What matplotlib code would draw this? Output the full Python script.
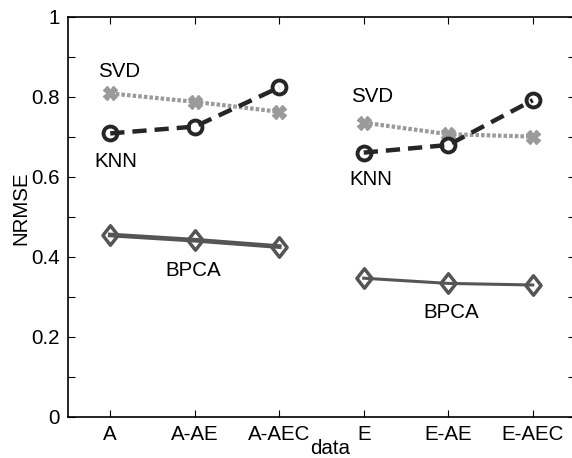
import matplotlib
matplotlib.use("Agg")
import matplotlib.pyplot as plt
from matplotlib.path import Path

plt.rcParams['font.family'] = ['Liberation Sans', 'DejaVu Sans']

categories = ["A", "A-AE", "A-AEC", "E", "E-AE", "E-AEC"]
groups = [[0, 1, 2], [3, 4, 5]]

svd = [0.809, 0.788, 0.763, 0.736, 0.707, 0.701]
knn = [0.709, 0.726, 0.824, 0.661, 0.680, 0.792]
bpca = [0.455, 0.442, 0.426, 0.347, 0.334, 0.330]

fig = plt.figure(figsize=(5.72, 4.58), dpi=100)
W, H = 572, 458
ax = fig.add_axes([68 / W, (H - 417) / H, (575 - 68) / W, 400 / H])

x = list(range(1, 7))
fs = 14.8

diamond = Path([(0, 1), (0.78, 0), (0, -1), (-0.78, 0), (0, 1)],
               [Path.MOVETO, Path.LINETO, Path.LINETO, Path.LINETO, Path.CLOSEPOLY])

for gi, g in enumerate(groups):
    xs = [x[i] for i in g]
    ax.plot(xs, [svd[i] for i in g], linestyle=(0, (0.85, 0.5)), color='#9a9a9a', lw=3.0,
            marker='X', ms=9.5, mfc='#9a9a9a', mec='#9a9a9a', zorder=3)
    ax.plot(xs, [knn[i] for i in g], linestyle=(0, (3.2, 1.8)), color='#262626', lw=3.2,
            marker='o', ms=10, mfc='none', mec='#262626', mew=2.8, zorder=4)
    ax.plot(xs, [bpca[i] for i in g], linestyle='-', color='#555555', lw=3.4 if gi == 0 else 2.2,
            marker=diamond, ms=14, mfc='none', mec='#555555', mew=2.5, zorder=3)

# series labels
ax.text(1.1, 0.863, "SVD", fontsize=fs, ha='center', va='center')
ax.text(1.07, 0.638, "KNN", fontsize=fs, ha='center', va='center')
ax.text(1.98, 0.367, "BPCA", fontsize=fs, ha='center', va='center')
ax.text(4.1, 0.80, "SVD", fontsize=fs, ha='center', va='center')
ax.text(4.08, 0.593, "KNN", fontsize=fs, ha='center', va='center')
ax.text(5.03, 0.26, "BPCA", fontsize=fs, ha='center', va='center')

ax.set_xlim(0.5, 6.5)
ax.set_ylim(0, 1)
ax.set_xticks(x)
ax.set_xticklabels(categories, fontsize=fs)
ax.set_yticks([0, 0.2, 0.4, 0.6, 0.8, 1.0])
ax.set_yticklabels(["0", "0.2", "0.4", "0.6", "0.8", "1"], fontsize=fs)
ax.set_yticks([0.1, 0.3, 0.5, 0.7, 0.9], minor=True)
ax.tick_params(which='both', direction='in', length=5, width=0.8, top=True, right=True, pad=6)
for s in ax.spines.values():
    s.set_linewidth(1.2)

ax.set_xlabel("data", fontsize=fs)
ax.xaxis.set_label_coords((330 - 68) / 507, -0.055, transform=ax.transAxes)
ax.set_ylabel("NRMSE", fontsize=fs)
ax.yaxis.set_label_coords(-(68 - 30) / 507, (417 - 208) / 400, transform=ax.transAxes)

fig.savefig("out.png", dpi=100)
